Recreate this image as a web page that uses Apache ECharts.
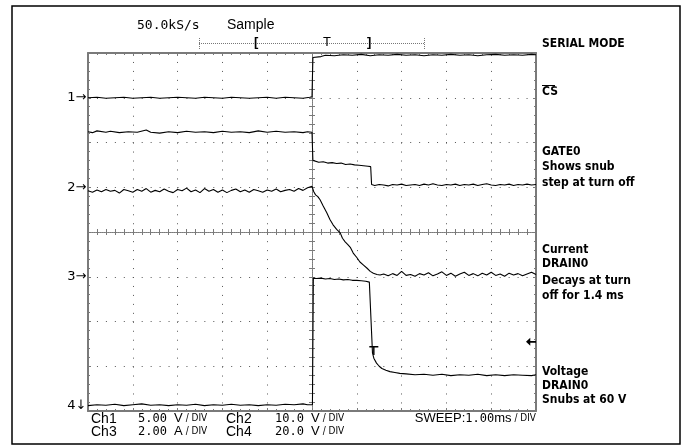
<!DOCTYPE html>
<html>
<head>
<meta charset="utf-8">
<script src="https://cdn.jsdelivr.net/npm/echarts@6/dist/echarts.min.js"></script>
<style>
  html, body { margin: 0; padding: 0; background: #fff; }
  #scope { width: 683px; height: 447px; }
</style>
</head>
<body>
<div id="scope"></div>
<script>
// time in divisions (1.00 ms/div), amplitude in divisions
const ch1 = [
  [-5.0, 3.00], [-4.8, 3.01], [-4.6, 2.99], [-4.4, 3.00], [-4.2, 3.01], [-4.0, 2.99], [-3.8, 3.00], [-3.6, 3.01],
  [-3.4, 2.99], [-3.2, 3.00], [-3.0, 3.01], [-2.8, 3.00], [-2.6, 2.99], [-2.4, 3.01], [-2.2, 3.00], [-2.0, 2.99],
  [-1.8, 3.01], [-1.6, 3.00], [-1.4, 2.99], [-1.2, 3.00], [-1.0, 3.01], [-0.8, 2.99], [-0.6, 3.01], [-0.4, 3.00],
  [-0.2, 2.99], [-0.05, 3.01], [0.0, 3.02],
  [0.02, 3.90], [0.05, 3.93], [0.2, 3.92], [0.3, 3.95], [0.5, 3.94], [0.7, 3.96], [0.9, 3.95], [1.1, 3.97],
  [1.3, 3.94], [1.5, 3.96], [1.7, 3.95], [1.9, 3.97], [2.1, 3.95], [2.3, 3.96], [2.5, 3.94], [2.7, 3.96],
  [2.9, 3.95], [3.1, 3.97], [3.3, 3.95], [3.5, 3.96], [3.7, 3.94], [3.9, 3.96], [4.1, 3.97], [4.3, 3.95],
  [4.5, 3.96], [4.7, 3.95], [4.9, 3.97], [5.0, 3.96]
]
const ch2 = [
  [-5.0, 2.24], [-4.9, 2.22], [-4.8, 2.26], [-4.6, 2.23], [-4.5, 2.25], [-4.3, 2.22], [-4.1, 2.24], [-3.9, 2.23],
  [-3.7, 2.28], [-3.6, 2.23], [-3.4, 2.21], [-3.2, 2.24], [-3.0, 2.22], [-2.8, 2.25], [-2.6, 2.23], [-2.4, 2.24],
  [-2.2, 2.22], [-2.0, 2.25], [-1.8, 2.23], [-1.6, 2.24], [-1.4, 2.22], [-1.2, 2.26], [-1.0, 2.23], [-0.8, 2.25],
  [-0.6, 2.23], [-0.4, 2.24], [-0.2, 2.22], [-0.1, 2.24], [0.0, 2.23],
  [0.02, 1.60], [0.05, 1.57], [0.15, 1.56], [0.25, 1.57], [0.35, 1.54], [0.45, 1.55], [0.55, 1.53], [0.65, 1.54],
  [0.75, 1.51], [0.85, 1.52], [0.95, 1.50], [1.05, 1.49], [1.15, 1.48], [1.25, 1.47], [1.31, 1.46], [1.33, 1.06],
  [1.4, 1.04], [1.5, 1.06], [1.6, 1.05], [1.7, 1.03], [1.8, 1.06], [1.9, 1.05], [2.0, 1.07], [2.1, 1.04],
  [2.2, 1.05], [2.3, 1.06], [2.4, 1.04], [2.5, 1.07], [2.6, 1.05], [2.7, 1.08], [2.8, 1.05], [2.9, 1.04],
  [3.0, 1.06], [3.1, 1.05], [3.2, 1.07], [3.3, 1.04], [3.4, 1.06], [3.5, 1.05], [3.6, 1.07], [3.7, 1.04],
  [3.8, 1.06], [3.9, 1.08], [4.0, 1.05], [4.1, 1.04], [4.2, 1.06], [4.3, 1.05], [4.4, 1.07], [4.5, 1.04],
  [4.6, 1.06], [4.7, 1.05], [4.8, 1.07], [4.9, 1.05], [5.0, 1.06]
]
const ch3 = [
  [-5.0, 0.92], [-4.9, 0.89], [-4.8, 0.94], [-4.7, 0.90], [-4.6, 0.95], [-4.5, 0.91], [-4.4, 0.93], [-4.3, 0.87],
  [-4.2, 0.95], [-4.1, 0.92], [-4.0, 0.89], [-3.9, 0.95], [-3.8, 0.91], [-3.7, 0.97], [-3.6, 0.89], [-3.5, 0.93],
  [-3.4, 0.90], [-3.3, 0.96], [-3.2, 0.91], [-3.1, 0.88], [-3.0, 0.95], [-2.9, 0.92], [-2.8, 0.98], [-2.7, 0.90],
  [-2.6, 0.94], [-2.5, 0.88], [-2.4, 0.97], [-2.3, 0.91], [-2.2, 0.95], [-2.1, 0.89], [-2.0, 0.94], [-1.9, 0.88],
  [-1.8, 0.93], [-1.7, 0.96], [-1.6, 0.90], [-1.5, 0.94], [-1.4, 0.89], [-1.3, 0.95], [-1.2, 0.92], [-1.1, 0.89],
  [-1.0, 0.94], [-0.9, 0.91], [-0.8, 0.96], [-0.7, 0.90], [-0.6, 0.93], [-0.5, 0.95], [-0.4, 0.91], [-0.3, 0.97],
  [-0.2, 0.93], [-0.1, 0.99], [0.0, 1.02],
  [0.04, 0.90], [0.08, 0.83], [0.13, 0.79], [0.18, 0.72], [0.25, 0.58], [0.33, 0.43], [0.40, 0.28], [0.47, 0.16],
  [0.55, 0.06], [0.63, -0.02], [0.68, -0.14], [0.74, -0.22], [0.80, -0.28], [0.86, -0.35], [0.92, -0.47],
  [1.0, -0.57], [1.07, -0.67], [1.15, -0.74], [1.23, -0.81], [1.30, -0.88], [1.37, -0.92], [1.45, -0.95], [1.52, -0.96],
  [1.6, -0.94], [1.7, -0.98], [1.8, -0.93], [1.9, -0.97], [2.0, -0.88], [2.1, -0.97], [2.2, -0.95], [2.3, -0.99],
  [2.4, -0.93], [2.5, -0.96], [2.6, -0.91], [2.7, -0.98], [2.8, -0.94], [2.9, -0.89], [3.0, -0.97], [3.1, -0.92],
  [3.2, -0.99], [3.3, -0.94], [3.4, -0.90], [3.5, -0.97], [3.6, -0.93], [3.7, -0.98], [3.8, -0.92], [3.9, -0.96],
  [4.0, -0.90], [4.1, -0.97], [4.2, -0.94], [4.3, -0.99], [4.4, -0.92], [4.5, -0.96], [4.6, -0.93], [4.7, -0.98],
  [4.8, -0.94], [4.9, -0.90], [5.0, -0.95]
]
const ch4 = [
  [-5.0, -3.88], [-4.8, -3.86], [-4.6, -3.87], [-4.4, -3.85], [-4.2, -3.88], [-4.0, -3.86], [-3.8, -3.84], [-3.6, -3.87],
  [-3.4, -3.86], [-3.2, -3.88], [-3.0, -3.86], [-2.8, -3.87], [-2.6, -3.85], [-2.4, -3.88], [-2.2, -3.86], [-2.0, -3.87],
  [-1.8, -3.85], [-1.6, -3.87], [-1.4, -3.86], [-1.2, -3.88], [-1.0, -3.86], [-0.8, -3.87], [-0.6, -3.85], [-0.4, -3.86],
  [-0.2, -3.84], [-0.1, -3.86], [0.01, -3.86],
  [0.03, -1.03], [0.1, -1.04], [0.2, -1.03], [0.3, -1.05], [0.4, -1.04], [0.5, -1.06], [0.6, -1.05], [0.7, -1.07],
  [0.8, -1.06], [0.9, -1.08], [1.0, -1.08], [1.1, -1.09], [1.2, -1.10], [1.28, -1.12], [1.32, -1.14],
  [1.35, -2.70], [1.38, -2.82], [1.44, -2.93], [1.5, -3.00], [1.56, -3.05], [1.65, -3.09], [1.74, -3.12], [1.85, -3.14],
  [1.96, -3.16], [2.1, -3.17], [2.3, -3.19], [2.5, -3.18], [2.7, -3.20], [2.9, -3.18], [3.1, -3.21], [3.3, -3.19],
  [3.5, -3.20], [3.7, -3.18], [3.9, -3.21], [4.1, -3.19], [4.3, -3.21], [4.5, -3.19], [4.7, -3.20], [4.9, -3.21], [5.0, -3.19]
]
// channel ground markers and trigger
const groundLevels = [3, 1, -1, -3.87]
const groundLabels = ['1→', '2→', '3→', '4↓']
const triggerPoint = [1.38, -2.58]
const triggerLevel = -2.455

const GRID = '#7a7a7a'
const narrow = '"Liberation Sans Narrow", "DejaVu Sans Condensed", sans-serif'
const mono = '"DejaVu Sans Mono", monospace'
const sans = '"Liberation Sans", Arial, sans-serif'

function borderAxis (pos, split, dash) {
  return {
    type: 'value',
    position: pos,
    min: pos === 'left' || pos === 'right' ? -4 : -5,
    max: pos === 'left' || pos === 'right' ? 4 : 5,
    interval: 1,
    axisLine: { show: true, onZero: false, lineStyle: { color: GRID, width: 2 } },
    axisTick: { show: true, inside: true, length: 3, lineStyle: { color: GRID } },
    minorTick: { show: true, splitNumber: 5, length: 2, lineStyle: { color: GRID } },
    axisLabel: { show: false },
    splitLine: { show: split, lineStyle: { color: '#555', width: 1, type: [1, dash - 1] } }
  }
}
function centerAxis (pos, inside, isY) {
  return {
    type: 'value',
    position: pos,
    min: isY ? -4 : -5,
    max: isY ? 4 : 5,
    interval: 1,
    axisLine: { show: true, onZero: true, onZeroAxisIndex: 0, lineStyle: { color: GRID, width: 1, type: [1, 1] } },
    axisTick: { show: true, inside: inside, length: 3, lineStyle: { color: GRID } },
    minorTick: { show: true, splitNumber: 5, length: 3, lineStyle: { color: GRID } },
    axisLabel: { show: false },
    splitLine: { show: false }
  }
}

function trace (name, data, idx, extra) {
  const s = {
    name: name,
    type: 'line',
    data: data,
    symbol: 'none',
    lineStyle: { color: '#000', width: 1.1 },
    z: 5,
    markPoint: {
      symbol: 'circle',
      symbolSize: 1,
      itemStyle: { color: 'rgba(0,0,0,0)' },
      label: {
        show: true, position: 'left', distance: 1, color: '#000',
        fontFamily: '"DejaVu Sans", sans-serif', fontSize: 13,
        formatter: function (p) { return p.name }
      },
      data: [{ name: groundLabels[idx], coord: [-5, groundLevels[idx]] }]
    }
  }
  if (extra) s.markPoint.data = s.markPoint.data.concat(extra)
  return s
}

const chart = echarts.init(document.getElementById('scope'), null, { renderer: 'canvas' })

const option = {
  animation: false,
  backgroundColor: '#fff',
  grid: { left: 88, top: 53, width: 448, height: 358 },
  xAxis: [
    borderAxis('bottom', true, 8.96),
    borderAxis('top', false, 8.96),
    centerAxis('bottom', true, false),
    centerAxis('bottom', false, false)
  ],
  yAxis: [
    borderAxis('left', true, 8.95),
    borderAxis('right', false, 8.95),
    centerAxis('left', true, true),
    centerAxis('left', false, true)
  ],
  series: [
    trace('CS', ch1, 0),
    trace('GATE0', ch2, 1),
    trace('Current DRAIN0', ch3, 2),
    trace('Voltage DRAIN0', ch4, 3, [
      {
        name: '', coord: triggerPoint, symbol: 'path://M0,0H10V1.6H5.8V9H4.2V1.6H0Z',
        symbolSize: [9, 9], symbolOffset: [0, 3], itemStyle: { color: '#000' }, label: { show: false }
      },
      {
        name: '', coord: [5, triggerLevel], symbol: 'path://M0,5L6,0V4H14V6H6V10Z',
        symbolSize: [10, 8], symbolOffset: [-5, 0], itemStyle: { color: '#000' }, label: { show: false }
      }
    ])
  ],
  graphic: [
    { type: 'rect', z: -10, shape: { x: 12, y: 6, width: 668, height: 438 }, style: { fill: 'none', stroke: '#000', lineWidth: 1.5 } },
    // record bar
    { type: 'text', left: 137, top: 19, style: { text: '50.0kS/s', font: '13px ' + mono, fill: '#000' } },
    { type: 'text', left: 227, top: 18, style: { text: 'Sample', font: '14px ' + sans, fill: '#000' } },
    { type: 'line', shape: { x1: 199, y1: 43.5, x2: 425, y2: 43.5 }, style: { stroke: '#777', lineWidth: 1, lineDash: [1, 1] } },
    { type: 'line', shape: { x1: 199.5, y1: 38, x2: 199.5, y2: 49 }, style: { stroke: '#777', lineWidth: 1, lineDash: [1, 1] } },
    { type: 'line', shape: { x1: 424.5, y1: 38, x2: 424.5, y2: 49 }, style: { stroke: '#777', lineWidth: 1, lineDash: [1, 1] } },
    { type: 'text', left: 254, top: 36, style: { text: '[', font: 'bold 13px ' + sans, fill: '#000' } },
    { type: 'text', left: 323, top: 36, style: { text: 'T', font: '13px ' + sans, fill: '#000' } },
    { type: 'text', left: 367, top: 36, style: { text: ']', font: 'bold 13px ' + sans, fill: '#000' } },
    // right side notes
    { type: 'text', left: 542, top: 38, style: { text: 'SERIAL MODE', font: 'bold 12px ' + narrow, fill: '#000' } },
    { type: 'text', left: 542, top: 86, style: { text: 'CS', font: 'bold 12px ' + narrow, fill: '#000' } },
    { type: 'line', shape: { x1: 542, y1: 85.5, x2: 555, y2: 85.5 }, style: { stroke: '#000', lineWidth: 1 } },
    { type: 'text', left: 542, top: 144, style: { text: 'GATE0\nShows snub\nstep at turn off', font: 'bold 12px ' + narrow, lineHeight: 15.5, fill: '#000' } },
    { type: 'text', left: 542, top: 243, style: { text: 'Current\nDRAIN0', font: 'bold 12px ' + narrow, lineHeight: 14, fill: '#000' } },
    { type: 'text', left: 542, top: 274, style: { text: 'Decays at turn\noff for 1.4 ms', font: 'bold 12px ' + narrow, lineHeight: 14.5, fill: '#000' } },
    { type: 'text', left: 542, top: 365, style: { text: 'Voltage\nDRAIN0\nSnubs at 60 V', font: 'bold 12px ' + narrow, lineHeight: 14, fill: '#000' } },
    // bottom readout
    {
      type: 'text', left: 91, top: 412,
      style: {
        text: '{s|Ch1}\n{s|Ch3}', fill: '#000',
        rich: { s: { font: '14px ' + sans, lineHeight: 13 } }
      }
    },
    {
      type: 'text', left: 138, top: 412,
      style: {
        text: '{n|5.00 }{u|V}{d| / DIV}\n{n|2.00 }{u|A}{d| / DIV}', fill: '#000',
        rich: {
          n: { font: '12px ' + mono, lineHeight: 13 },
          u: { font: '13px ' + sans, lineHeight: 13 },
          d: { font: '10px ' + narrow, lineHeight: 13 }
        }
      }
    },
    {
      type: 'text', left: 226, top: 412,
      style: {
        text: '{s|Ch2}\n{s|Ch4}', fill: '#000',
        rich: { s: { font: '14px ' + sans, lineHeight: 13 } }
      }
    },
    {
      type: 'text', left: 275, top: 412,
      style: {
        text: '{n|10.0 }{u|V}{d| / DIV}\n{n|20.0 }{u|V}{d| / DIV}', fill: '#000',
        rich: {
          n: { font: '12px ' + mono, lineHeight: 13 },
          u: { font: '13px ' + sans, lineHeight: 13 },
          d: { font: '10px ' + narrow, lineHeight: 13 }
        }
      }
    },
    {
      type: 'text', right: 147, top: 412,
      style: {
        text: '{s|SWEEP:}{n|1.00}{s|ms}{d| / DIV}', fill: '#000',
        rich: {
          s: { font: '13px ' + sans, lineHeight: 13 },
          n: { font: '12px ' + mono, lineHeight: 13 },
          d: { font: '10px ' + narrow, lineHeight: 13 }
        }
      }
    }
  ]
}

chart.setOption(option)
window.addEventListener('resize', function () {
  chart.resize()
})
</script>
</body>
</html>
